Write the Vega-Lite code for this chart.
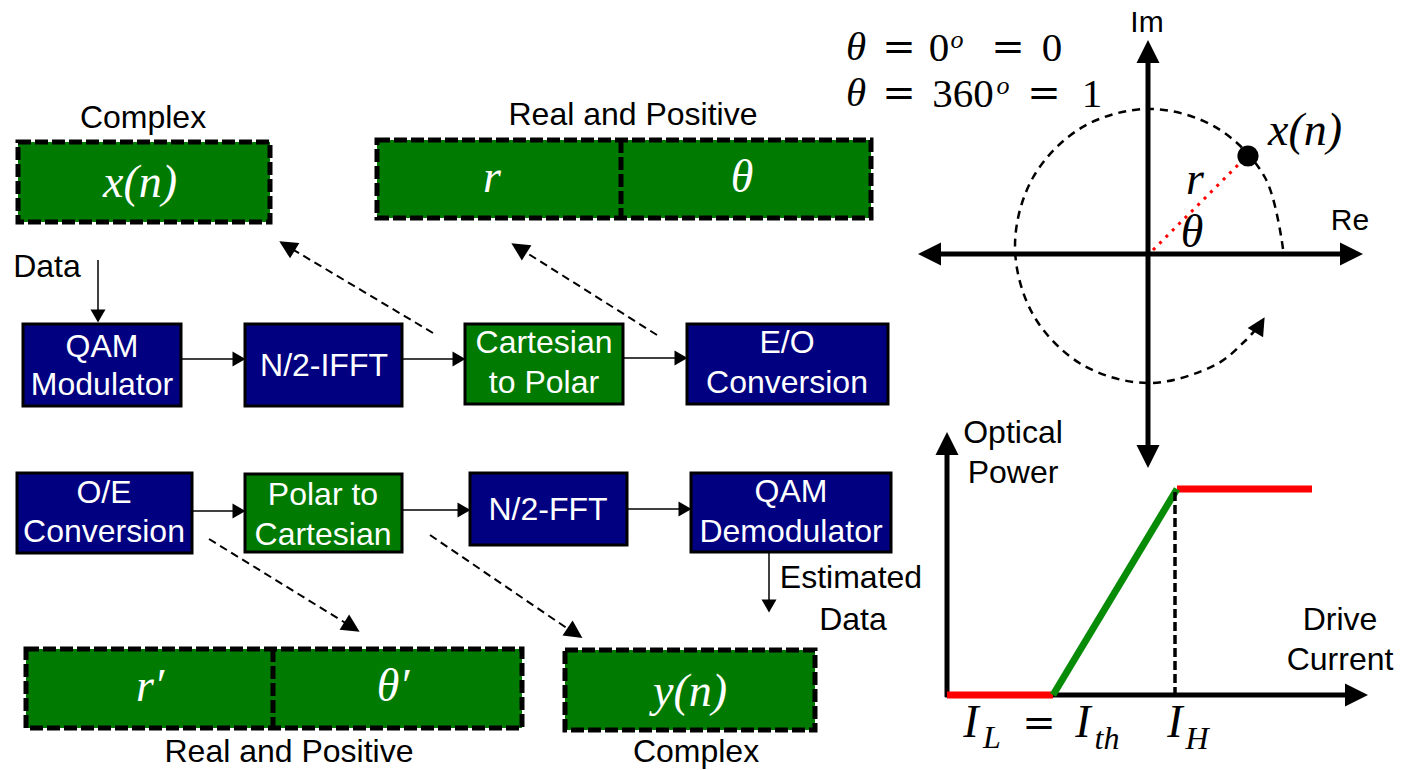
{
  "$schema": "https://vega.github.io/schema/vega-lite/v6.json",
  "width": 1403,
  "height": 770,
  "autosize": {"type": "fit", "contains": "padding"},
  "padding": 0,
  "background": "white",
  "config": {"view": {"stroke": null}},
  "datasets": {
    "dashboxes": [
      {"x": 18, "x2": 270, "y": 142, "y2": 222},
      {"x": 377, "x2": 871, "y": 140, "y2": 218},
      {"x": 26, "x2": 522, "y": 649, "y2": 728},
      {"x": 565, "x2": 815, "y": 650, "y2": 730}
    ],
    "boxes": [
      {"x": 23, "x2": 181, "y": 324, "y2": 406, "kind": "blue"},
      {"x": 245, "x2": 402, "y": 324, "y2": 406, "kind": "blue"},
      {"x": 465, "x2": 623, "y": 324, "y2": 404, "kind": "green"},
      {"x": 687, "x2": 888, "y": 324, "y2": 404, "kind": "blue"},
      {"x": 17, "x2": 192, "y": 473, "y2": 553, "kind": "blue"},
      {"x": 245, "x2": 402, "y": 474, "y2": 552, "kind": "green"},
      {"x": 470, "x2": 627, "y": 473, "y2": 545, "kind": "blue"},
      {"x": 691, "x2": 891, "y": 473, "y2": 552, "kind": "blue"}
    ],
    "segments": [
      {"x": 621, "y": 140, "x2": 621, "y2": 218, "kind": "divider"},
      {"x": 273, "y": 649, "x2": 273, "y2": 728, "kind": "divider"},
      {"x": 98, "y": 260, "x2": 98, "y2": 312, "kind": "thin"},
      {"x": 181, "y": 359, "x2": 236, "y2": 359, "kind": "thin"},
      {"x": 402, "y": 359, "x2": 456, "y2": 359, "kind": "thin"},
      {"x": 623, "y": 358, "x2": 678, "y2": 358, "kind": "thin"},
      {"x": 192, "y": 511, "x2": 236, "y2": 511, "kind": "thin"},
      {"x": 402, "y": 510, "x2": 461, "y2": 510, "kind": "thin"},
      {"x": 627, "y": 509, "x2": 682, "y2": 509, "kind": "thin"},
      {"x": 769, "y": 552, "x2": 769, "y2": 602, "kind": "thin"},
      {"x": 433, "y": 333, "x2": 287, "y2": 246, "kind": "dash"},
      {"x": 657, "y": 335, "x2": 519, "y2": 248, "kind": "dash"},
      {"x": 209, "y": 539, "x2": 352, "y2": 627, "kind": "dash"},
      {"x": 430, "y": 535, "x2": 574, "y2": 633, "kind": "dash"},
      {"x": 928, "y": 254, "x2": 1352, "y2": 254, "kind": "axis"},
      {"x": 1148, "y": 50, "x2": 1148, "y2": 458, "kind": "axis"},
      {"x": 947, "y": 445, "x2": 947, "y2": 697, "kind": "axis"},
      {"x": 945, "y": 695, "x2": 1357, "y2": 695, "kind": "axis"},
      {"x": 947, "y": 695, "x2": 1053, "y2": 695, "kind": "red"},
      {"x": 1177, "y": 489, "x2": 1312, "y2": 489, "kind": "red"},
      {"x": 1053, "y": 695, "x2": 1177, "y2": 489, "kind": "green"},
      {"x": 1175, "y": 492, "x2": 1175, "y2": 693, "kind": "vdash"},
      {"x": 1153, "y": 250, "x2": 1243, "y2": 160, "kind": "dotted"}
    ],
    "heads": [
      {"x": 98, "y": 316, "angle": 180, "kind": "small"},
      {"x": 239, "y": 359, "angle": 90, "kind": "small"},
      {"x": 459, "y": 359, "angle": 90, "kind": "small"},
      {"x": 681, "y": 358, "angle": 90, "kind": "small"},
      {"x": 239, "y": 511, "angle": 90, "kind": "small"},
      {"x": 464, "y": 510, "angle": 90, "kind": "small"},
      {"x": 685, "y": 509, "angle": 90, "kind": "small"},
      {"x": 769, "y": 606, "angle": 180, "kind": "small"},
      {"x": 287, "y": 246, "angle": 301, "kind": "medium"},
      {"x": 519, "y": 248, "angle": 302, "kind": "medium"},
      {"x": 352, "y": 627, "angle": 122, "kind": "medium"},
      {"x": 575, "y": 633, "angle": 124, "kind": "medium"},
      {"x": 1260, "y": 325, "angle": 31, "kind": "medium"},
      {"x": 929.5, "y": 254, "angle": 270, "kind": "large"},
      {"x": 1351.5, "y": 254, "angle": 90, "kind": "large"},
      {"x": 1148, "y": 51.5, "angle": 0, "kind": "large"},
      {"x": 1148, "y": 456.5, "angle": 180, "kind": "large"},
      {"x": 947, "y": 443.5, "angle": 0, "kind": "large"},
      {"x": 1356.5, "y": 695, "angle": 90, "kind": "large"}
    ],
    "arc": [
      {"i": 0, "x": 1283, "y": 249},
      {"i": 1, "x": 1265, "y": 177.5},
      {"i": 2, "x": 1216, "y": 127.4},
      {"i": 3, "x": 1149, "y": 109},
      {"i": 4, "x": 1082, "y": 127.4},
      {"i": 5, "x": 1033, "y": 177.5},
      {"i": 6, "x": 1015, "y": 246},
      {"i": 7, "x": 1033, "y": 314.5},
      {"i": 8, "x": 1082, "y": 364.6},
      {"i": 9, "x": 1149, "y": 383},
      {"i": 10, "x": 1216, "y": 364.6},
      {"i": 11, "x": 1245, "y": 341},
      {"i": 12, "x": 1257, "y": 328}
    ],
    "dot": [{"x": 1248, "y": 156}],
    "labels": [
      {"x": 143, "y": 118, "text": "Complex"},
      {"x": 633, "y": 115, "text": "Real and Positive"},
      {"x": 47, "y": 267, "text": "Data"},
      {"x": 851, "y": 578, "text": "Estimated"},
      {"x": 853, "y": 620, "text": "Data"},
      {"x": 289, "y": 752, "text": "Real and Positive"},
      {"x": 696, "y": 752, "text": "Complex"},
      {"x": 1013, "y": 433, "text": "Optical"},
      {"x": 1013, "y": 473, "text": "Power"},
      {"x": 1340, "y": 620, "text": "Drive"},
      {"x": 1340, "y": 660, "text": "Current"}
    ],
    "axislabels": [
      {"x": 1147, "y": 23, "text": "Im"},
      {"x": 1350, "y": 221, "text": "Re"}
    ],
    "boxtext": [
      {"x": 102, "y": 347, "text": "QAM"},
      {"x": 102, "y": 385, "text": "Modulator"},
      {"x": 324, "y": 366, "text": "N/2-IFFT"},
      {"x": 544, "y": 343, "text": "Cartesian"},
      {"x": 544, "y": 383, "text": "to Polar"},
      {"x": 787, "y": 343, "text": "E/O"},
      {"x": 787, "y": 383, "text": "Conversion"},
      {"x": 104, "y": 493, "text": "O/E"},
      {"x": 104, "y": 532, "text": "Conversion"},
      {"x": 323, "y": 495, "text": "Polar to"},
      {"x": 323, "y": 535, "text": "Cartesian"},
      {"x": 548, "y": 510, "text": "N/2-FFT"},
      {"x": 791, "y": 492, "text": "QAM"},
      {"x": 791, "y": 532, "text": "Demodulator"}
    ],
    "mathw": [
      {"x": 140, "y": 183, "text": "x(n)"},
      {"x": 492, "y": 178, "text": "r"},
      {"x": 742, "y": 178, "text": "θ"},
      {"x": 150, "y": 687, "text": "r′"},
      {"x": 393, "y": 687, "text": "θ′"},
      {"x": 690, "y": 692, "text": "y(n)"}
    ],
    "mathk": [
      {"x": 1305, "y": 131, "text": "x(n)"},
      {"x": 1195, "y": 180, "text": "r"},
      {"x": 1192, "y": 233, "text": "θ"},
      {"x": 971, "y": 723, "text": "I"},
      {"x": 1083, "y": 723, "text": "I"},
      {"x": 1175, "y": 723, "text": "I"}
    ],
    "formula": [
      {"x": 856, "y": 48, "text": "θ"},
      {"x": 856, "y": 94, "text": "θ"}
    ],
    "digits": [
      {"x": 939, "y": 49, "text": "0"},
      {"x": 1052, "y": 49, "text": "0"},
      {"x": 963, "y": 95, "text": "360"},
      {"x": 1092, "y": 95, "text": "1"}
    ],
    "eq": [
      {"x": 899, "y": 48, "text": "="},
      {"x": 1008, "y": 48, "text": "="},
      {"x": 899, "y": 94, "text": "="},
      {"x": 1044, "y": 94, "text": "="},
      {"x": 1039, "y": 724, "text": "="}
    ],
    "sup": [
      {"x": 957, "y": 40, "text": "o"},
      {"x": 1003, "y": 86, "text": "o"}
    ],
    "sub": [
      {"x": 992, "y": 738, "text": "L"},
      {"x": 1107, "y": 739, "text": "th"},
      {"x": 1197, "y": 739, "text": "H"}
    ]
  },
  "encoding": {
    "x": {"field": "x", "type": "quantitative", "scale": {"domain": [0, 1403], "nice": false, "zero": false}, "axis": null},
    "y": {"field": "y", "type": "quantitative", "scale": {"domain": [0, 770], "nice": false, "zero": false, "reverse": true}, "axis": null}
  },
  "layer": [
    {
      "data": {"name": "dashboxes"},
      "mark": {"type": "rect", "fill": "#007a00", "stroke": "black", "strokeWidth": 5, "strokeDash": [13, 4]},
      "encoding": {"x2": {"field": "x2"}, "y2": {"field": "y2"}}
    },
    {
      "data": {"name": "segments"},
      "transform": [{"filter": "datum.kind === 'divider'"}],
      "mark": {"type": "rule", "color": "black", "strokeWidth": 5, "strokeDash": [13, 4]},
      "encoding": {"x2": {"field": "x2"}, "y2": {"field": "y2"}}
    },
    {
      "data": {"name": "boxes"},
      "mark": {"type": "rect", "stroke": "black", "strokeWidth": 3},
      "encoding": {
        "x2": {"field": "x2"}, "y2": {"field": "y2"},
        "fill": {"field": "kind", "type": "nominal", "scale": {"domain": ["blue", "green"], "range": ["#000080", "#007a00"]}, "legend": null}
      }
    },
    {
      "data": {"name": "segments"},
      "transform": [{"filter": "datum.kind === 'thin'"}],
      "mark": {"type": "rule", "color": "black", "strokeWidth": 1.5},
      "encoding": {"x2": {"field": "x2"}, "y2": {"field": "y2"}}
    },
    {
      "data": {"name": "segments"},
      "transform": [{"filter": "datum.kind === 'dash'"}],
      "mark": {"type": "rule", "color": "black", "strokeWidth": 2, "strokeDash": [8, 5]},
      "encoding": {"x2": {"field": "x2"}, "y2": {"field": "y2"}}
    },
    {
      "data": {"name": "segments"},
      "transform": [{"filter": "datum.kind === 'axis'"}],
      "mark": {"type": "rule", "color": "black", "strokeWidth": 5},
      "encoding": {"x2": {"field": "x2"}, "y2": {"field": "y2"}}
    },
    {
      "data": {"name": "segments"},
      "transform": [{"filter": "datum.kind === 'red'"}],
      "mark": {"type": "rule", "color": "#ff0000", "strokeWidth": 7},
      "encoding": {"x2": {"field": "x2"}, "y2": {"field": "y2"}}
    },
    {
      "data": {"name": "segments"},
      "transform": [{"filter": "datum.kind === 'green'"}],
      "mark": {"type": "rule", "color": "#088c08", "strokeWidth": 7},
      "encoding": {"x2": {"field": "x2"}, "y2": {"field": "y2"}}
    },
    {
      "data": {"name": "segments"},
      "transform": [{"filter": "datum.kind === 'vdash'"}],
      "mark": {"type": "rule", "color": "black", "strokeWidth": 3.5, "strokeDash": [9, 4]},
      "encoding": {"x2": {"field": "x2"}, "y2": {"field": "y2"}}
    },
    {
      "data": {"name": "segments"},
      "transform": [{"filter": "datum.kind === 'dotted'"}],
      "mark": {"type": "rule", "color": "#ff0000", "strokeWidth": 3, "strokeDash": [3, 6]},
      "encoding": {"x2": {"field": "x2"}, "y2": {"field": "y2"}}
    },
    {
      "data": {"name": "arc"},
      "mark": {"type": "line", "color": "black", "strokeWidth": 2.5, "strokeDash": [8, 6], "interpolate": "catmull-rom"},
      "encoding": {"order": {"field": "i", "type": "quantitative"}}
    },
    {
      "data": {"name": "heads"},
      "transform": [{"filter": "datum.kind === 'small'"}],
      "mark": {"type": "point", "filled": true, "color": "black", "opacity": 1, "shape": "M0,-1L1.15,1L-1.15,1Z", "size": 169},
      "encoding": {"angle": {"field": "angle", "type": "quantitative", "scale": null}}
    },
    {
      "data": {"name": "heads"},
      "transform": [{"filter": "datum.kind === 'medium'"}],
      "mark": {"type": "point", "filled": true, "color": "black", "opacity": 1, "shape": "M0,-1L1,1L-1,1Z", "size": 324},
      "encoding": {"angle": {"field": "angle", "type": "quantitative", "scale": null}}
    },
    {
      "data": {"name": "heads"},
      "transform": [{"filter": "datum.kind === 'large'"}],
      "mark": {"type": "point", "filled": true, "color": "black", "opacity": 1, "shape": "M0,-1L1,1L-1,1Z", "size": 529},
      "encoding": {"angle": {"field": "angle", "type": "quantitative", "scale": null}}
    },
    {
      "data": {"name": "dot"},
      "mark": {"type": "point", "shape": "circle", "filled": true, "color": "black", "opacity": 1, "size": 450}
    },
    {
      "data": {"name": "labels"},
      "mark": {"type": "text", "font": "Liberation Sans", "fontSize": 32, "color": "black", "align": "center", "baseline": "middle"},
      "encoding": {"text": {"field": "text"}}
    },
    {
      "data": {"name": "axislabels"},
      "mark": {"type": "text", "font": "Liberation Sans", "fontSize": 30, "color": "black", "align": "center", "baseline": "middle"},
      "encoding": {"text": {"field": "text"}}
    },
    {
      "data": {"name": "boxtext"},
      "mark": {"type": "text", "font": "Liberation Sans", "fontSize": 32, "color": "white", "align": "center", "baseline": "middle"},
      "encoding": {"text": {"field": "text"}}
    },
    {
      "data": {"name": "mathw"},
      "mark": {"type": "text", "font": "Liberation Serif", "fontStyle": "italic", "fontSize": 46, "color": "white", "align": "center", "baseline": "middle"},
      "encoding": {"text": {"field": "text"}}
    },
    {
      "data": {"name": "mathk"},
      "mark": {"type": "text", "font": "Liberation Serif", "fontStyle": "italic", "fontSize": 46, "color": "black", "align": "center", "baseline": "middle"},
      "encoding": {"text": {"field": "text"}}
    },
    {
      "data": {"name": "formula"},
      "mark": {"type": "text", "font": "Liberation Serif", "fontStyle": "italic", "fontSize": 41, "color": "black", "align": "center", "baseline": "middle"},
      "encoding": {"text": {"field": "text"}}
    },
    {
      "data": {"name": "digits"},
      "mark": {"type": "text", "font": "Liberation Serif", "fontSize": 41, "color": "black", "align": "center", "baseline": "middle"},
      "encoding": {"text": {"field": "text"}}
    },
    {
      "data": {"name": "eq"},
      "mark": {"type": "text", "font": "DejaVu Serif", "fontSize": 40, "color": "black", "align": "center", "baseline": "middle"},
      "encoding": {"text": {"field": "text"}}
    },
    {
      "data": {"name": "sup"},
      "mark": {"type": "text", "font": "Liberation Serif", "fontStyle": "italic", "fontSize": 26, "color": "black", "align": "center", "baseline": "middle"},
      "encoding": {"text": {"field": "text"}}
    },
    {
      "data": {"name": "sub"},
      "mark": {"type": "text", "font": "Liberation Serif", "fontStyle": "italic", "fontSize": 32, "color": "black", "align": "center", "baseline": "middle"},
      "encoding": {"text": {"field": "text"}}
    }
  ]
}
